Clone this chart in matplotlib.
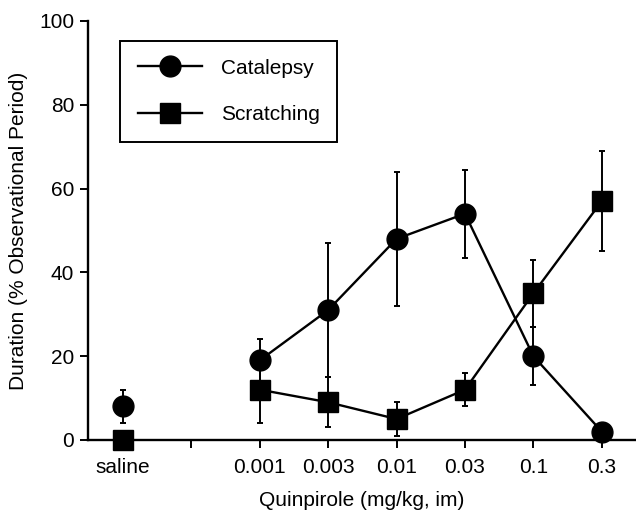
import numpy as np
import matplotlib.pyplot as plt

plt.rcParams['font.family'] = ['Liberation Sans', 'DejaVu Sans']

# --- Data ---
dose_labels = ["saline", "", "0.001", "0.003", "0.01", "0.03", "0.1", "0.3"]
tick_pos = np.arange(len(dose_labels))

saline_pos = 0
dose_pos = np.arange(2, 8)

catalepsy_saline = 8
catalepsy_saline_err = 4
scratching_saline = 0

catalepsy = [19, 31, 48, 54, 20, 2]
catalepsy_err = [5, 16, 16, 10.5, 7, 0]
scratching = [12, 9, 5, 12, 35, 57]
scratching_err = [8, 6, 4, 4, 8, 12]

fig = plt.figure(figsize=(6.36, 5.11), dpi=100)
ax = fig.add_axes([0.1384, 0.139, 0.8616, 0.820])

lw = 1.7
ms_c = 15
ms_s = 14
fs = 15

# error bars
err_kw = dict(fmt='none', ecolor='black', elinewidth=1.4, capsize=2.5, capthick=1.4)
ax.errorbar(dose_pos, catalepsy, yerr=catalepsy_err, **err_kw)
ax.errorbar(dose_pos, scratching, yerr=scratching_err, **err_kw)
ax.errorbar([saline_pos], [catalepsy_saline], yerr=[catalepsy_saline_err], **err_kw)

# lines + markers
ax.plot(dose_pos, catalepsy, '-o', color='black', lw=lw, ms=ms_c, label='Catalepsy',
        clip_on=False)
ax.plot(dose_pos, scratching, '-s', color='black', lw=lw, ms=ms_s, label='Scratching',
        clip_on=False)
ax.plot([saline_pos], [catalepsy_saline], 'o', color='black', ms=ms_c, clip_on=False)
ax.plot([saline_pos], [scratching_saline], 's', color='black', ms=ms_s, clip_on=False)

ax.set_xlim(-0.51, 7.5)
ax.set_ylim(0, 100)
ax.set_xticks(tick_pos)
ax.set_xticklabels(dose_labels)
ax.set_yticks([0, 20, 40, 60, 80, 100])

for side in ['top', 'right']:
    ax.spines[side].set_visible(False)
for side in ['left', 'bottom']:
    ax.spines[side].set_linewidth(1.7)

ax.tick_params(axis='both', direction='out', length=6, width=1.4, labelsize=fs,
               colors='black')
ax.tick_params(axis='x', pad=7)
ax.tick_params(axis='y', pad=4)

ax.set_xlabel("Quinpirole (mg/kg, im)", fontsize=fs, labelpad=10)
ax.set_ylabel("Duration (% Observational Period)", fontsize=fs, labelpad=8)

leg = ax.legend(loc='upper left', bbox_to_anchor=(0.058, 0.952), borderaxespad=0,
                fontsize=fs, handlelength=3.1, handletextpad=0.9, labelspacing=1.3,
                borderpad=0.85, fancybox=False, edgecolor='black', framealpha=1)
leg.get_frame().set_linewidth(1.4)

fig.savefig("out.png", dpi=100)
